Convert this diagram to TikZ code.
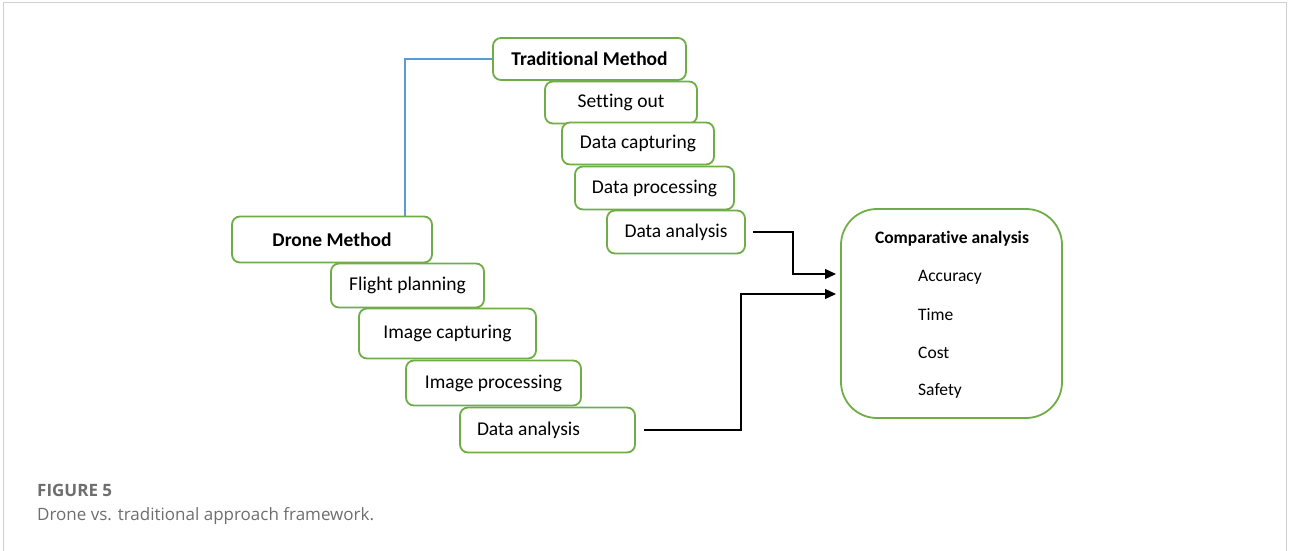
\documentclass[tikz,border=0pt]{standalone}
\usepackage{fontspec}
\setmainfont{Carlito}[Ligatures={NoCommon,NoContextual,NoRequired,NoRare}]
\newfontfamily\capfont{Open Sans}
\usetikzlibrary{arrows.meta}
\newcommand{\nolig}{\kern0pt{}}
\definecolor{boxgreen}{HTML}{70AD47}
\definecolor{linkblue}{HTML}{5B9BD5}
\definecolor{capgray}{HTML}{6E6E6E}
\definecolor{framegray}{HTML}{D0D0D0}
\tikzset{
  stepbox/.style={draw=boxgreen, line width=1.8pt, rounded corners=8pt, fill=white,
    inner sep=0pt, font=\fontsize{19.5}{22}\selectfont, text=black},
  headbox/.style={stepbox, font=\fontsize{19.5}{22}\selectfont\bfseries},
  flow/.style={draw=black, line width=1.2pt, -{Triangle[length=11pt,width=10pt]}},
  caption/.style={anchor=base west, inner sep=0pt, text=capgray}
}
\begin{document}
\begin{tikzpicture}[x=1pt,y=-1pt]
\useasboundingbox (0,0) rectangle (1290,551);
\draw[framegray, line width=1.5pt] (3.5,551) -- (3.5,2.5) -- (1286.5,2.5) -- (1286.5,551);

% blue link
\coordinate (j0) at (405,216);
% traditional column
\node[headbox, minimum width=193pt, minimum height=42pt] (TM) at (589.5,59) {Tradit\nolig ional Method};
\draw[linkblue, line width=1.2pt] (TM.west) -| (j0);
\node[stepbox, minimum width=152pt, minimum height=42pt] (SO) at (621,102.5) {Sett\nolig ing out};
\node[stepbox, minimum width=152pt, minimum height=42pt] (DC) at (638,143.5) {Data capturing};
\node[stepbox, minimum width=159pt, minimum height=43pt] (DP) at (654.5,188) {Data processing};
\node[stepbox, minimum width=138pt, minimum height=43pt] (DAT) at (676,232) {Data analysis};

% drone column
\node[headbox, minimum width=200pt, minimum height=46pt] (DM) at (332,239.5) {Drone Method};
\node[stepbox, minimum width=153pt, minimum height=44pt] (FP) at (407.5,285.5) {Flight planning};
\node[stepbox, minimum width=177pt, minimum height=50pt] (IC) at (447.5,333.5) {Image capturing};
\node[stepbox, minimum width=175pt, minimum height=45pt] (IP) at (493.5,383) {Image processing};
\node[stepbox, minimum width=175pt, minimum height=45pt] (DAD) at (547.5,430) {\makebox[141pt][l]{Data analysis}};

% comparative analysis
\node[draw=boxgreen, line width=1.8pt, rounded corners=36pt, minimum width=221pt, minimum height=209pt] (CA) at (951.5,313.5) {};
\node[font=\fontsize{17.5}{20}\selectfont\bfseries, inner sep=0pt] (CAt) at (952,239) {Comparat\nolig ive analysis};
\node[font=\fontsize{17.5}{20}\selectfont, anchor=west, inner sep=0pt] (c1) at (918,277) {Accuracy};
\node[font=\fontsize{17.5}{20}\selectfont, anchor=west, inner sep=0pt] (c2) at (918,315) {Time};
\node[font=\fontsize{17.5}{20}\selectfont, anchor=west, inner sep=0pt] (c3) at (918,353) {Cost};
\node[font=\fontsize{17.5}{20}\selectfont, anchor=west, inner sep=0pt] (c4) at (918,391) {Safety};

% connectors
\coordinate (j1) at (793,274);
\coordinate (in1) at (836,274);
\coordinate (j2) at (741,294);
\coordinate (in2) at (836,294);
\draw[flow] ([xshift=7pt]DAT.east) -| (j1) -- (in1);
\draw[flow] ([xshift=8pt]DAD.east) -| (j2) -- (in2);

% caption
\node[caption, font=\capfont\fontsize{17}{20}\selectfont\bfseries] (fig) at (37,496) {FIGURE 5};
\node[caption, font=\capfont\fontsize{17}{20}\selectfont] (cap) at (37,520) {Drone vs. traditional approach framework.};
\end{tikzpicture}
\end{document}
